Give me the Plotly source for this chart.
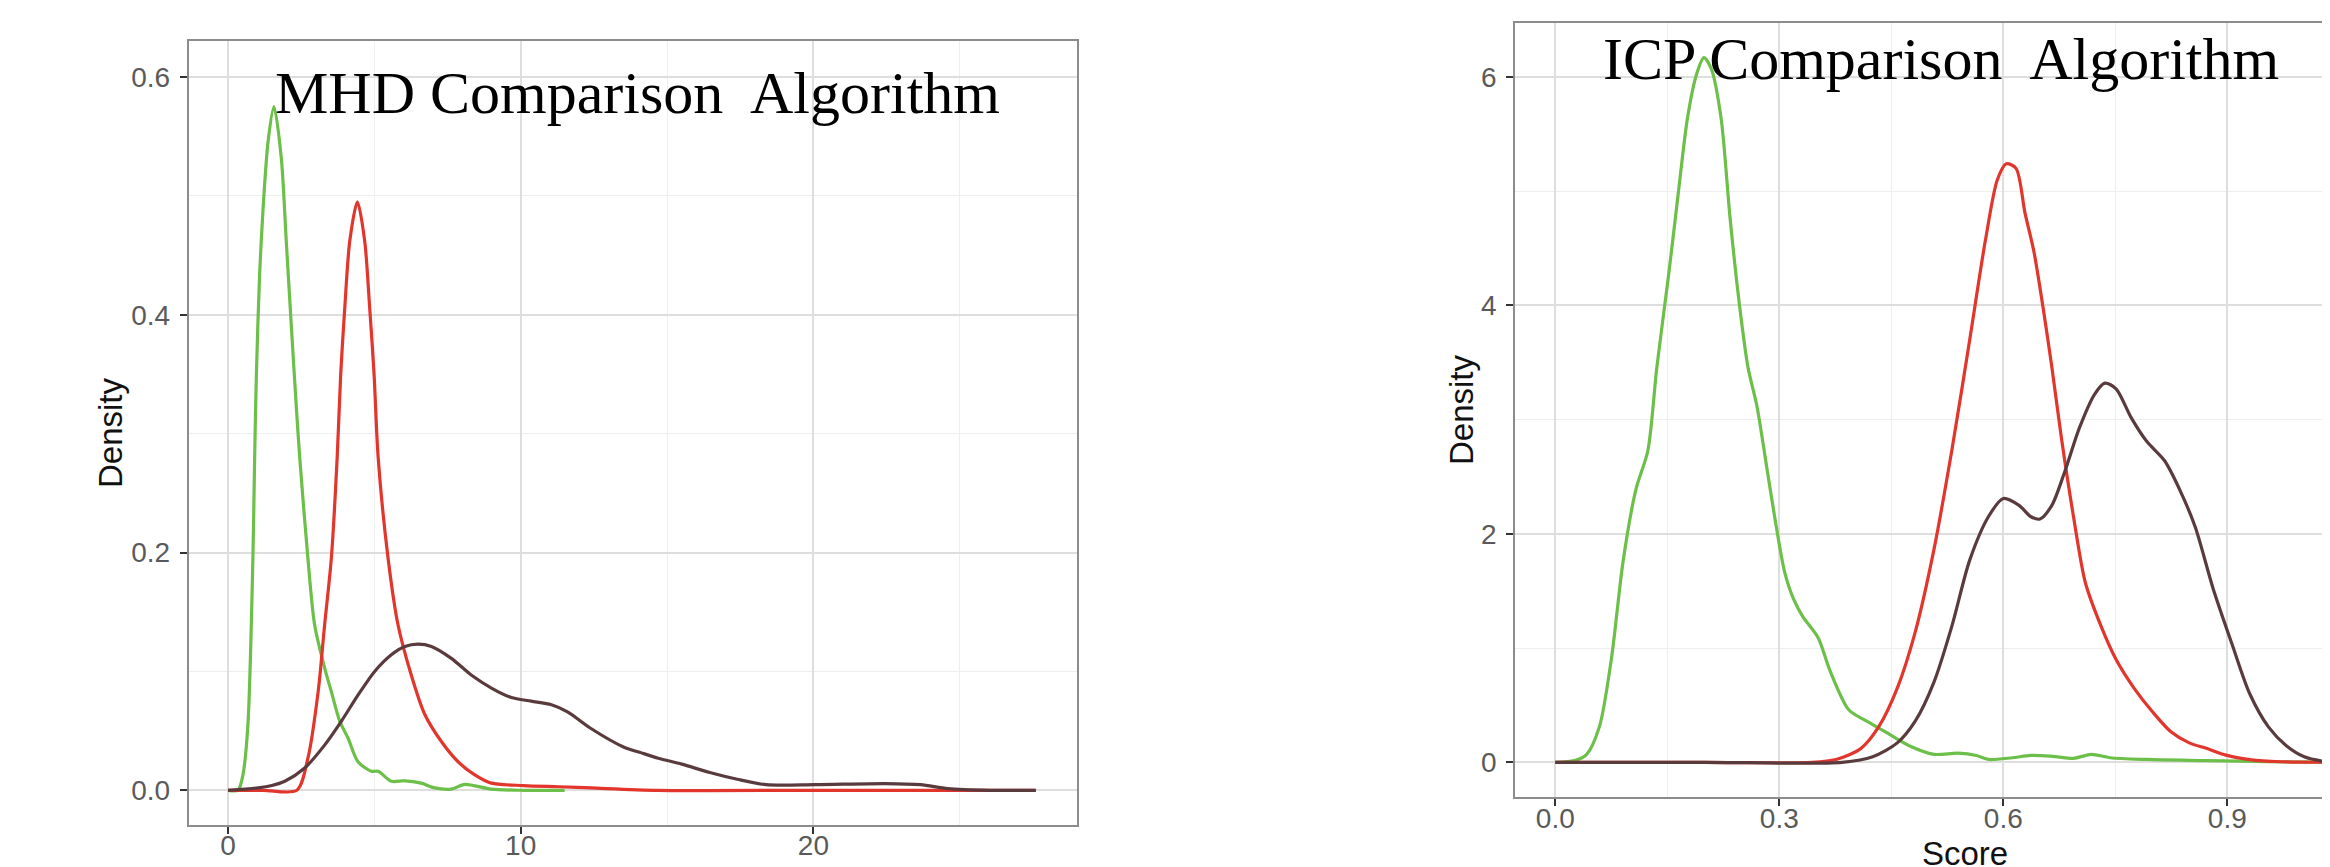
import plotly.graph_objects as go

W, H = 2330, 867

# ---------------- data ----------------
# MHD panel
mhd_green_x = [0.0, 0.34, 0.51, 0.68, 0.85, 0.91, 0.97, 1.08, 1.2, 1.37, 1.57, 1.82, 1.99, 2.16, 2.34, 2.45,
               2.73, 2.96, 3.30, 3.53, 3.82, 4.1, 4.44, 4.9, 5.13, 5.58, 6.04, 6.6, 7.06, 7.63, 8.09, 9.0, 10.1, 11.5]
mhd_green_y = [0.0, 0.0, 0.013, 0.055, 0.195, 0.28, 0.35, 0.434, 0.49, 0.546, 0.575, 0.532, 0.462, 0.392, 0.32, 0.28,
               0.195, 0.139, 0.103, 0.083, 0.058, 0.044, 0.024, 0.016, 0.016, 0.0076, 0.008, 0.006, 0.002, 0.001, 0.005, 0.001, 0.0, 0.0]

mhd_red_x = [0.0, 1.2, 2.35, 2.73, 3.08, 3.30, 3.53, 3.73, 3.85, 3.99, 4.16, 4.42, 4.67, 4.84, 4.99, 5.13,
             5.47, 5.81, 6.26, 6.72, 7.29, 7.86, 8.43, 9.0, 10.1, 11.3, 12.4, 14.7, 20.0, 27.6]
mhd_red_y = [0.0, 0.0, 0.0, 0.027, 0.083, 0.139, 0.195, 0.28, 0.35, 0.406, 0.462, 0.495, 0.462, 0.406, 0.35, 0.28,
             0.195, 0.139, 0.097, 0.064, 0.041, 0.024, 0.013, 0.006, 0.004, 0.003, 0.002, 0.0, 0.0, 0.0]

mhd_dark_x = [0.0, 1.03, 1.5, 1.94, 2.62, 3.30, 3.87, 4.44, 5.01, 5.58, 6.04, 6.49, 6.95, 7.63, 8.31, 9.0, 9.68,
              10.36, 11.05, 11.6, 12.4, 13.55, 14.06, 14.7, 15.5, 16.46, 17.4, 18.38, 20.05, 22.45, 23.66, 24.6, 26.05, 27.6]
mhd_dark_y = [0.0, 0.002, 0.004, 0.0076, 0.0188, 0.038, 0.058, 0.080, 0.100, 0.114, 0.121, 0.123, 0.121, 0.111, 0.097, 0.086, 0.078,
              0.075, 0.072, 0.066, 0.052, 0.036, 0.032, 0.027, 0.022, 0.015, 0.0093, 0.0047, 0.0047, 0.0056, 0.0047, 0.0014, 0.0, 0.0]

# ICP panel
icp_green_x = [0.0, 0.026, 0.042, 0.059, 0.075, 0.091, 0.108, 0.124, 0.136, 0.152, 0.165, 0.177, 0.189, 0.199,
               0.209, 0.222, 0.234, 0.246, 0.258, 0.270, 0.283, 0.295, 0.307, 0.319, 0.331, 0.352, 0.368, 0.393,
               0.417, 0.441, 0.474, 0.507, 0.539, 0.564, 0.580, 0.612, 0.637, 0.669, 0.694, 0.718, 0.743, 0.792,
               0.873, 0.955, 1.05]
icp_green_y = [0.0, 0.015, 0.07, 0.31, 0.9, 1.77, 2.39, 2.73, 3.46, 4.28, 5.0, 5.64, 6.02, 6.17,
               6.07, 5.64, 4.77, 4.04, 3.46, 3.12, 2.59, 2.10, 1.67, 1.43, 1.28, 1.09, 0.80, 0.46,
               0.36, 0.27, 0.145, 0.07, 0.08, 0.06, 0.025, 0.04, 0.06, 0.05, 0.035, 0.07, 0.04, 0.025,
               0.015, 0.005, 0.0]

icp_red_x = [0.0, 0.2, 0.344, 0.376, 0.409, 0.433, 0.458, 0.482, 0.507, 0.531, 0.555, 0.576, 0.592, 0.604,
             0.617, 0.629, 0.641, 0.653, 0.665, 0.678, 0.694, 0.710, 0.731, 0.751, 0.775, 0.800, 0.824, 0.849,
             0.873, 0.898, 0.930, 0.971, 1.05]
icp_red_y = [0.0, 0.0, 0.0, 0.025, 0.12, 0.31, 0.65, 1.14, 1.86, 2.73, 3.70, 4.57, 5.10, 5.24,
             5.20, 4.81, 4.47, 3.99, 3.46, 2.83, 2.15, 1.57, 1.19, 0.90, 0.65, 0.44, 0.27, 0.17,
             0.12, 0.063, 0.024, 0.005, 0.0]

icp_dark_x = [0.0, 0.2, 0.384, 0.425, 0.458, 0.482, 0.507, 0.531, 0.555, 0.580, 0.600, 0.621, 0.637, 0.649,
              0.665, 0.682, 0.702, 0.722, 0.736, 0.751, 0.771, 0.792, 0.816, 0.836, 0.857, 0.881, 0.906, 0.930,
              0.955, 0.979, 1.003, 1.028, 1.05]
icp_dark_y = [0.0, 0.0, 0.0, 0.048, 0.17, 0.36, 0.70, 1.19, 1.77, 2.15, 2.31, 2.25, 2.15, 2.13,
              2.25, 2.54, 2.93, 3.22, 3.32, 3.27, 3.02, 2.81, 2.64, 2.39, 2.06, 1.52, 1.04, 0.60,
              0.31, 0.145, 0.048, 0.01, 0.0]

mhd_xticks = [0, 10, 20]
mhd_yticks = [0.0, 0.2, 0.4, 0.6]
mhd_ytick_labels = ["0.0", "0.2", "0.4", "0.6"]
icp_xticks = [0.0, 0.3, 0.6, 0.9]
icp_xtick_labels = ["0.0", "0.3", "0.6", "0.9"]
icp_yticks = [0, 2, 4, 6]

titles = ["MHD Comparison\u00a0 Algorithm", "ICP Comparison\u00a0 Algorithm"]

# ---------------- styling ----------------
GREEN = "#6CBF48"
RED = "#E2352C"
DARK = "#5A3B3D"
LW = 3.2

def px_x(p):
    return p / W

def px_y(p):
    return 1 - p / H

fig = go.Figure()

for xs, ys, col in [(mhd_green_x, mhd_green_y, GREEN), (mhd_red_x, mhd_red_y, RED), (mhd_dark_x, mhd_dark_y, DARK)]:
    fig.add_trace(go.Scatter(x=xs, y=ys, mode="lines", line=dict(color=col, width=LW, shape="spline", smoothing=0.8),
                             xaxis="x", yaxis="y", showlegend=False))
for xs, ys, col in [(icp_green_x, icp_green_y, GREEN), (icp_red_x, icp_red_y, RED), (icp_dark_x, icp_dark_y, DARK)]:
    fig.add_trace(go.Scatter(x=xs, y=ys, mode="lines", line=dict(color=col, width=LW, shape="spline", smoothing=0.8),
                             xaxis="x2", yaxis="y2", showlegend=False))

tickfont = dict(family="Liberation Sans, Arial, sans-serif", size=28, color="#5a5a5a")
common = dict(showgrid=True, gridcolor="#dedede", gridwidth=2, zeroline=False, showline=True,
              linecolor="#8c8c8c", linewidth=2, ticks="outside", ticklen=7, tickwidth=2, tickcolor="#333333",
              tickfont=tickfont, fixedrange=True)
minor_style = dict(showgrid=True, gridcolor="#eeeeee", gridwidth=1.2, ticks="")

fig.update_layout(
    width=W, height=H,
    margin=dict(l=0, r=0, t=0, b=0),
    paper_bgcolor="white", plot_bgcolor="white",
    xaxis=dict(domain=[px_x(180.7), px_x(1069)], range=[-1.343, 29.006], tickvals=mhd_xticks,
               ticktext=[str(v) for v in mhd_xticks], mirror=True, anchor="y",
               minor=dict(dtick=5, tick0=0, **minor_style), ticklabelstandoff=-12, **common),
    yaxis=dict(domain=[px_y(816.7), px_y(33)], range=[-0.02894, 0.63028], tickvals=mhd_yticks,
               ticktext=mhd_ytick_labels, mirror=True, anchor="x",
               minor=dict(dtick=0.1, tick0=0, **minor_style), ticklabelstandoff=4, **common),
    xaxis2=dict(domain=[px_x(1507.3), 1.0], range=[-0.05357, 1.0482], tickvals=icp_xticks,
                ticktext=icp_xtick_labels, mirror=True, anchor="y2",
                minor=dict(dtick=0.15, tick0=0, **minor_style), ticklabelstandoff=-12, **common),
    yaxis2=dict(domain=[px_y(789), px_y(15)], range=[-0.3038, 6.4728], tickvals=icp_yticks,
                ticktext=[str(v) for v in icp_yticks], mirror=False, anchor="x2",
                minor=dict(dtick=1, tick0=0, **minor_style), ticklabelstandoff=4, **common),
)

axfont = dict(family="Liberation Sans, Arial, sans-serif", size=33, color="#111111")
serif = dict(family="Liberation Serif, Times New Roman, serif", size=60, color="black")
ann = []
# panel titles
ann.append(dict(text=titles[0], x=px_x(629), y=px_y(85.5), xref="paper", yref="paper", showarrow=False,
                xanchor="center", yanchor="middle", font=serif))
ann.append(dict(text=titles[1], x=px_x(1933), y=px_y(51.5), xref="paper", yref="paper", showarrow=False,
                xanchor="center", yanchor="middle", font=serif))
# axis titles
ann.append(dict(text="Density", x=px_x(102), y=px_y(425), xref="paper", yref="paper", showarrow=False,
                textangle=-90, xanchor="center", yanchor="middle", font=axfont))
ann.append(dict(text="Density", x=px_x(1453), y=px_y(402), xref="paper", yref="paper", showarrow=False,
                textangle=-90, xanchor="center", yanchor="middle", font=axfont))
ann.append(dict(text="Score", x=px_x(1957), y=px_y(845), xref="paper", yref="paper", showarrow=False,
                xanchor="center", yanchor="middle", font=axfont))
ann.append(dict(text="Score", x=px_x(625), y=px_y(874), xref="paper", yref="paper", showarrow=False,
                xanchor="center", yanchor="middle", font=axfont))
fig.update_layout(annotations=ann)

fig.write_html("out.html")
